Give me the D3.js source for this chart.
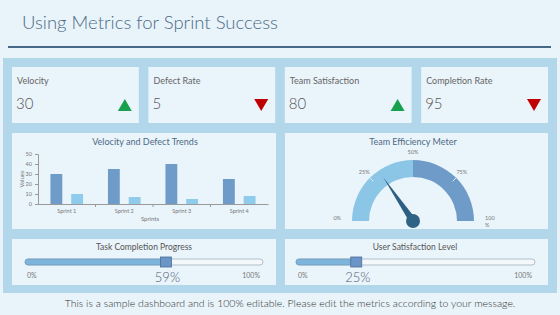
<!DOCTYPE html>
<html>
<head>
<meta charset="utf-8">
<script src="https://cdn.jsdelivr.net/npm/d3@7"></script>
<style>
  body { margin: 0; background: #e8f3fa; }
  svg { display: block; font-family: "Lato", "Open Sans", sans-serif; }
  .light { font-weight: 300; }
</style>
</head>
<body>
<div id="dashboard"></div>
<script>
// KPI cards
const kpiLabels = ["Velocity", "Defect Rate", "Team Satisfaction", "Completion Rate"];
const kpiValues = [30, 5, 80, 95];
const kpiTrends = ["up", "down", "up", "down"];

// bar chart
const sprints = ["Sprint 1", "Sprint 2", "Sprint 3", "Sprint 4"];
const velocity = [30, 35, 40, 25];
const defects = [10, 7, 5, 8];
const yTicks = [0, 10, 20, 30, 40, 50];

// gauge
const gaugeValue = 31;
const gaugeTicks = [0, 25, 50, 75, 100];

// progress sliders
const progressTitles = ["Task Completion Progress", "User Satisfaction Level"];
const progressValues = [59, 25];

const width = 560, height = 315;
const svg = d3.select("#dashboard").append("svg")
    .attr("width", width)
    .attr("height", height);

svg.append("rect").attr("width", width).attr("height", height).attr("fill", "#e8f3fa");

// Title + rule
svg.append("text")
    .attr("class", "light")
    .attr("x", 22).attr("y", 29)
    .attr("fill", "#4d6b85")
    .style("font-size", "18.5px")
    .text("Using Metrics for Sprint Success");
svg.append("line")
    .attr("x1", 8).attr("x2", 551).attr("y1", 47).attr("y2", 47)
    .attr("stroke", "#46698a").attr("stroke-width", 2);

// Blue band behind the cards
svg.append("rect")
    .attr("x", 3).attr("y", 58).attr("width", 554).attr("height", 235)
    .attr("fill", "#b2d7eb");

const cardFill = "#eaf4fb";

// KPI cards
const kpiX = d3.scaleBand().domain(kpiLabels).range([12, 548]).paddingInner(0.07);
const kpi = svg.selectAll(".kpi")
    .data(kpiLabels)
    .enter().append("g")
    .attr("class", "kpi")
    .attr("transform", d => "translate(" + kpiX(d) + ",67)");
kpi.append("rect")
    .attr("width", kpiX.bandwidth()).attr("height", 56)
    .attr("fill", cardFill);
kpi.append("text")
    .attr("x", 5).attr("y", 17)
    .attr("fill", "#666")
    .style("font-size", "9px")
    .text(d => d);
kpi.append("text")
    .attr("class", "light")
    .attr("x", 4).attr("y", 42)
    .attr("fill", "#555")
    .style("font-size", "15px")
    .text((d, i) => kpiValues[i]);
kpi.append("path")
    .attr("transform", d => "translate(" + (kpiX.bandwidth() - 14) + ",38)")
    .attr("d", (d, i) => kpiTrends[i] === "up" ? "M-7,6L7,6L0,-6Z" : "M-7,-6L7,-6L0,6Z")
    .attr("fill", (d, i) => kpiTrends[i] === "up" ? "#17a04e" : "#c00000");

// Chart panels
const panels = [
    { x: 12, y: 133, w: 264, h: 96 },
    { x: 285, y: 133, w: 263, h: 96 },
    { x: 12, y: 239, w: 264, h: 46 },
    { x: 285, y: 239, w: 263, h: 46 }
];
svg.selectAll(".panel")
    .data(panels)
    .enter().append("rect")
    .attr("class", "panel")
    .attr("x", d => d.x).attr("y", d => d.y)
    .attr("width", d => d.w).attr("height", d => d.h)
    .attr("fill", cardFill);

// ---- Velocity and Defect Trends ----
svg.append("text")
    .attr("x", 145).attr("y", 145)
    .attr("text-anchor", "middle")
    .attr("fill", "#4d6b85")
    .style("font-size", "9px")
    .text("Velocity and Defect Trends");

let x0 = d3.scaleBand().domain(sprints).range([38, 268]);
let x1 = d3.scaleBand().domain(["velocity", "defects"])
    .range([0, x0.bandwidth()])
    .paddingInner(0.43).paddingOuter(0.6);
let y = d3.scaleLinear().domain([0, 50]).range([204, 154]);

let yAxis = svg.append("g")
    .attr("transform", "translate(38,0)")
    .call(d3.axisLeft(y).tickValues(yTicks).tickSize(3));
yAxis.select(".domain").attr("stroke", "#999");
yAxis.selectAll(".tick line").attr("stroke", "#999");
yAxis.selectAll("text").attr("fill", "#777").style("font-size", "5.5px").style("font-family", "Lato");

let xAxis = svg.append("g")
    .attr("transform", "translate(0,204)")
    .call(d3.axisBottom(x0).tickSize(0).tickPadding(5));
xAxis.select(".domain").attr("stroke", "#999");
xAxis.selectAll("text").attr("fill", "#777").style("font-size", "5.5px").style("font-family", "Lato");
// category separator ticks
svg.selectAll(".sep")
    .data(sprints.slice(1))
    .enter().append("line")
    .attr("x1", d => x0(d)).attr("x2", d => x0(d))
    .attr("y1", 204).attr("y2", 207)
    .attr("stroke", "#999");

svg.append("text")
    .attr("transform", "translate(24,179)rotate(-90)")
    .attr("text-anchor", "middle")
    .attr("fill", "#777")
    .style("font-size", "6px")
    .text("Values");
svg.append("text")
    .attr("x", 150).attr("y", 221)
    .attr("text-anchor", "middle")
    .attr("fill", "#777")
    .style("font-size", "6px")
    .text("Sprints");

let groups = svg.selectAll(".sprint")
    .data(sprints)
    .enter().append("g")
    .attr("transform", d => "translate(" + x0(d) + ",0)");
groups.append("rect")
    .attr("x", x1("velocity"))
    .attr("y", (d, i) => y(velocity[i]))
    .attr("width", x1.bandwidth())
    .attr("height", (d, i) => y(0) - y(velocity[i]))
    .attr("fill", "#6e9bc8");
groups.append("rect")
    .attr("x", x1("defects"))
    .attr("y", (d, i) => y(defects[i]))
    .attr("width", x1.bandwidth())
    .attr("height", (d, i) => y(0) - y(defects[i]))
    .attr("fill", "#8fcbea");

// ---- Team Efficiency Meter ----
svg.append("text")
    .attr("x", 413).attr("y", 145)
    .attr("text-anchor", "middle")
    .attr("fill", "#4d6b85")
    .style("font-size", "9px")
    .text("Team Efficiency Meter");

const gcx = 413, gcy = 221;
let angle = d3.scaleLinear().domain([0, 100]).range([-Math.PI / 2, Math.PI / 2]);
let arc = d3.arc().innerRadius(44).outerRadius(61);
let gauge = svg.append("g").attr("transform", "translate(" + gcx + "," + gcy + ")");
gauge.append("path")
    .attr("d", arc({ startAngle: angle(0), endAngle: angle(50) }))
    .attr("fill", "#8cc6e6");
gauge.append("path")
    .attr("d", arc({ startAngle: angle(50), endAngle: angle(100) }))
    .attr("fill", "#6f9bc8");
// faint markers at 25% / 75%
gauge.selectAll(".mark")
    .data([25, 75])
    .enter().append("line")
    .attr("x1", d => 56 * Math.sin(angle(d))).attr("y1", d => -56 * Math.cos(angle(d)))
    .attr("x2", d => 61 * Math.sin(angle(d))).attr("y2", d => -61 * Math.cos(angle(d)))
    .attr("stroke", "#d8ecf7").attr("stroke-width", 1);

gauge.selectAll(".glabel")
    .data(gaugeTicks)
    .enter().append("text")
    .attr("x", d => d === 0 ? -72 : d === 100 ? 72 : 69 * Math.sin(angle(d)))
    .attr("y", d => d === 0 || d === 100 ? -1 : -69 * Math.cos(angle(d)) + 2)
    .attr("text-anchor", d => d === 0 ? "end" : d === 100 ? "start" : "middle")
    .attr("fill", "#777")
    .style("font-size", "5.5px")
    .text(d => d === 100 ? "100" : d + "%");
gauge.append("text")
    .attr("x", 72).attr("y", 6)
    .attr("fill", "#777")
    .style("font-size", "5.5px")
    .text("%");

let na = angle(gaugeValue);
let tip = [53 * Math.sin(na), -53 * Math.cos(na)];
let perp = [Math.cos(na) * 3.5, Math.sin(na) * 3.5];
gauge.append("path")
    .attr("d", "M" + (-perp[0]) + "," + (-perp[1]) + "L" + tip[0] + "," + tip[1] + "L" + perp[0] + "," + perp[1] + "Z")
    .attr("fill", "#2c5f82");
gauge.append("circle").attr("r", 7).attr("fill", "#2f6385");

// ---- Progress sliders ----
const sliders = [
    { cx: 144, x0: 25, x1: 263 },
    { cx: 415, x0: 296, x1: 535 }
];
sliders.forEach((s, i) => {
    let g = svg.append("g");
    let px = d3.scaleLinear().domain([0, 100]).range([s.x0, s.x1]);
    g.append("text")
        .attr("x", s.cx).attr("y", 250)
        .attr("text-anchor", "middle")
        .attr("fill", "#555")
        .style("font-size", "8.5px")
        .text(progressTitles[i]);
    g.append("rect")
        .attr("x", px(0)).attr("y", 259)
        .attr("width", px(100) - px(0)).attr("height", 6)
        .attr("rx", 3)
        .attr("fill", "#f4f8fb").attr("stroke", "#8a9cab").attr("stroke-width", 0.6);
    g.append("rect")
        .attr("x", px(0)).attr("y", 259)
        .attr("width", px(progressValues[i]) - px(0)).attr("height", 6)
        .attr("rx", 3)
        .attr("fill", "#7db4db").attr("stroke", "#6b93b5").attr("stroke-width", 0.6);
    g.append("rect")
        .attr("x", px(progressValues[i]) - 5).attr("y", 257)
        .attr("width", 11).attr("height", 10)
        .attr("fill", "#6b95c6").attr("stroke", "#4a6f96").attr("stroke-width", 0.8);
    g.append("text")
        .attr("x", px(0) + 2).attr("y", 278)
        .attr("fill", "#777")
        .style("font-size", "7px")
        .text("0%");
    g.append("text")
        .attr("x", px(100) - 3).attr("y", 278)
        .attr("text-anchor", "end")
        .attr("fill", "#777")
        .style("font-size", "7px")
        .text("100%");
    g.append("text")
        .attr("class", "light")
        .attr("x", px(progressValues[i]) + 2).attr("y", 282)
        .attr("text-anchor", "middle")
        .attr("fill", "#4a5d70")
        .style("font-size", "13px")
        .text(progressValues[i] + "%");
});

// footer
svg.append("text")
    .attr("class", "light")
    .attr("x", 290).attr("y", 307)
    .attr("text-anchor", "middle")
    .attr("fill", "#333")
    .style("font-size", "10.5px")
    .text("This is a sample dashboard and is 100% editable. Please edit the metrics according to your message.");
</script>
</body>
</html>
